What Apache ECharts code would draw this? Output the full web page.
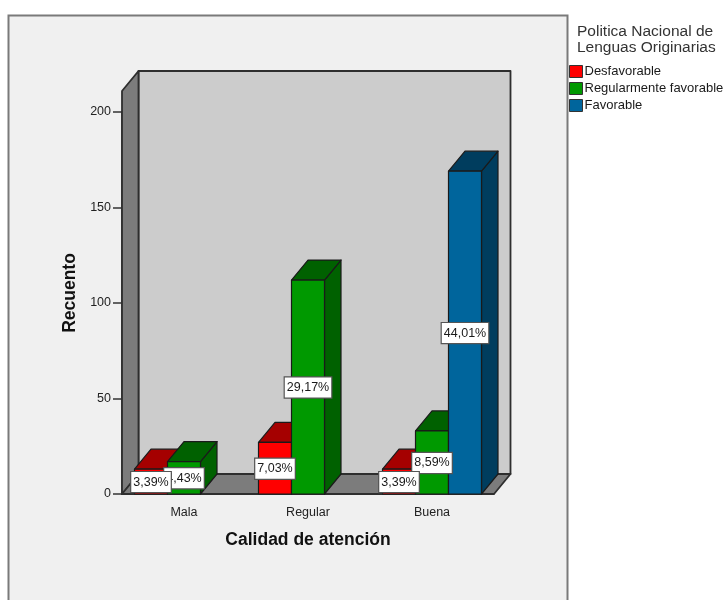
<!DOCTYPE html>
<html><head><meta charset="utf-8">
<style>html,body{margin:0;padding:0;background:#fff}#c{width:724px;height:600px}</style>
<script src="https://cdn.jsdelivr.net/npm/echarts@6/dist/echarts.min.js"></script>
</head><body><div id="c"></div>
<script>
const categories = ['Mala', 'Regular', 'Buena'];
const seriesNames = ['Desfavorable', 'Regularmente favorable', 'Favorable'];
const desfavorable = [13, 27, 13];
const regular = [17, 112, 33];
const favorable = [null, null, 169];
const pctDesfavorable = ['3,39%', '7,03%', '3,39%'];
const pctRegular = ['4,43%', '29,17%', '8,59%'];
const pctFavorable = [null, null, '44,01%'];
const yTicks = { min: 0, max: 200, interval: 50 };
const wallTopValue = 211;
const depth = [16.5, -20];
const barFrac = 33 / 124;
const FONT = '"Liberation Sans", Arial, sans-serif';
const palette = [
  { front: '#ff0000', top: '#a50000', side: '#a50000' },
  { front: '#009900', top: '#006100', side: '#006100' },
  { front: '#00659c', top: '#003d5e', side: '#003d5e' }
];
const edge = '#1a1a1a';

function wallItem(params, api) {
  const band = api.size([1, 0])[0];
  const x0 = api.coord([0, 0])[0] - band / 2;
  const x1 = api.coord([categories.length - 1, 0])[0] + band / 2;
  const yb = api.coord([0, 0])[1];
  const yt = api.coord([0, wallTopValue])[1];
  const dx = depth[0], dy = depth[1];
  const st = (fill) => ({ fill, stroke: '#2e2e2e', lineWidth: 1.8, lineJoin: 'round' });
  return { type: 'group', children: [
    { type: 'polygon', shape: { points: [[x0 + dx, yt + dy], [x1 + dx, yt + dy], [x1 + dx, yb + dy], [x0 + dx, yb + dy]] }, style: st('#cccccc') },
    { type: 'polygon', shape: { points: [[x0, yt], [x0 + dx, yt + dy], [x0 + dx, yb + dy], [x0, yb]] }, style: st('#7c7c7c') },
    { type: 'polygon', shape: { points: [[x0, yb], [x1, yb], [x1 + dx, yb + dy], [x0 + dx, yb + dy]] }, style: st('#7c7c7c') }
  ]};
}

function barRenderer(slot) {
  return function (params, api) {
    const v = api.value(1);
    if (v == null || isNaN(v)) return null;
    const band = api.size([1, 0])[0];
    const w = band * barFrac;
    const c = api.coord([api.value(0), 0]);
    const xl = c[0] + (slot - 1.5) * w;
    const xr = xl + w;
    const yb = c[1];
    const yt = api.coord([api.value(0), v])[1];
    const dx = depth[0], dy = depth[1];
    const p = palette[slot];
    const st = (fill) => ({ fill, stroke: edge, lineWidth: 1.2, lineJoin: 'round' });
    return { type: 'group', children: [
      { type: 'polygon', shape: { points: [[xr, yt], [xr + dx, yt + dy], [xr + dx, yb + dy], [xr, yb]] }, style: st(p.side) },
      { type: 'polygon', shape: { points: [[xl, yt], [xr, yt], [xr + dx, yt + dy], [xl + dx, yt + dy]] }, style: st(p.top) },
      { type: 'rect', shape: { x: xl, y: yt, width: w, height: yb - yt }, style: st(p.front) }
    ]};
  };
}

const valueLists = [desfavorable, regular, favorable];
const pctLists = [pctDesfavorable, pctRegular, pctFavorable];
const labelData = [];
[2, 1, 0].forEach(s => categories.forEach((_, i) => {
  if (valueLists[s][i] != null) labelData.push([i, valueLists[s][i], s, pctLists[s][i]]);
}));

function labelItem(params, api) {
  const band = api.size([1, 0])[0];
  const w = band * barFrac;
  const slot = api.value(2);
  const v = api.value(1);
  const c = api.coord([api.value(0), 0]);
  const yt = api.coord([api.value(0), v])[1];
  return {
    type: 'text',
    x: c[0] + (slot - 1) * w,
    y: (c[1] + yt) / 2 + 0.5,
    style: {
      text: labelData[params.dataIndex][3],
      font: '12.5px ' + FONT,
      fill: '#1a1a1a',
      align: 'center',
      verticalAlign: 'middle',
      backgroundColor: '#ffffff',
      borderColor: '#555555',
      borderWidth: 1.2,
      padding: [4, 2, 3, 2]
    }
  };
}

const chart = echarts.init(document.getElementById('c'), null, { renderer: 'canvas' });
chart.setOption({
  animation: false,
  backgroundColor: '#ffffff',
  graphic: [
    { type: 'rect', z: -10, shape: { x: 8.5, y: 15.5, width: 559, height: 640 },
      style: { fill: '#f0f0f0', stroke: '#7a7a7a', lineWidth: 2 } },
    { type: 'text', z: 5, left: 577, top: 24,
      style: { text: 'Politica Nacional de\nLenguas Originarias', font: '15.5px ' + FONT, fill: '#333', lineHeight: 16 } }
  ],
  legend: {
    orient: 'vertical', left: 569, top: 65, itemWidth: 13, itemHeight: 12, itemGap: 4,
    icon: 'rect', selectedMode: false,
    data: seriesNames,
    padding: 0,
    textStyle: { fontFamily: FONT, fontSize: 13, color: '#1a1a1a', padding: [0, 0, 0, -3] },
    itemStyle: { borderColor: '#333', borderWidth: 1 }
  },
  grid: { left: 122, top: 112, width: 372, height: 382 },
  xAxis: {
    type: 'category', data: categories,
    name: 'Calidad de atención', nameLocation: 'middle', nameGap: 37,
    nameTextStyle: { fontFamily: FONT, fontSize: 17.5, fontWeight: 'bold', color: '#111' },
    axisLine: { lineStyle: { color: '#333', width: 1.5 } },
    axisTick: { alignWithLabel: true, length: 9, lineStyle: { color: '#333', width: 1.5 } },
    axisLabel: { fontFamily: FONT, fontSize: 12.5, color: '#222', margin: 12 }
  },
  yAxis: {
    type: 'value', min: yTicks.min, max: yTicks.max, interval: yTicks.interval,
    name: 'Recuento', nameLocation: 'middle', nameGap: 42,
    nameTextStyle: { fontFamily: FONT, fontSize: 17.5, fontWeight: 'bold', color: '#111', padding: [0, 0, 0, 20] },
    splitLine: { show: false },
    axisLine: { show: true, lineStyle: { color: '#333', width: 1.5 } },
    axisTick: { show: true, length: 9, lineStyle: { color: '#333', width: 1.5 } },
    axisLabel: { fontFamily: FONT, fontSize: 12.5, color: '#222', margin: 11 }
  },
  series: [
    { type: 'custom', name: 'walls', z: 1, silent: true, renderItem: wallItem, data: [[0, 0]], encode: { x: 0, y: 1 }, clip: false },
    ...seriesNames.map((n, s) => ({
      type: 'custom', name: n, z: 3 + s, renderItem: barRenderer(s),
      itemStyle: { color: palette[s].front },
      data: categories.map((_, i) => [i, valueLists[s][i]]),
      encode: { x: 0, y: 1 }, clip: false
    })),
    { type: 'custom', name: 'labels', z: 8, silent: true, renderItem: labelItem,
      data: labelData.map(d => d.slice(0, 3)), encode: { x: 0, y: 1 }, clip: false }
  ]
});
</script></body></html>
